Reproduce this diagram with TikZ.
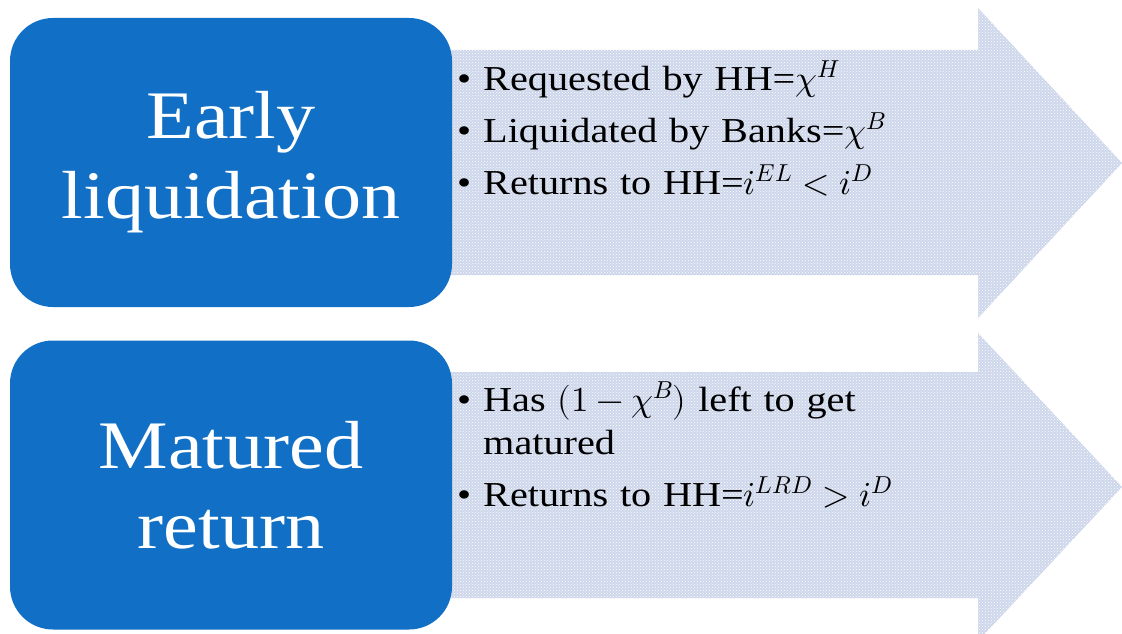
\documentclass[tikz,border=0pt]{standalone}
\usepackage{fontspec}
\usepackage{unicode-math}
\setmainfont{Liberation Serif}[FakeStretch=1.15]
\setmathfont{Latin Modern Math}
\usetikzlibrary{patterns}
\definecolor{boxblue}{RGB}{17,112,197}
\definecolor{arrowgray}{RGB}{205,214,235}
\newcommand\titlefont{\fontsize{68}{80}\selectfont}
\newcommand\listfont{\fontsize{35}{43}\selectfont}
\newcommand\bpt{\par\hangindent=26pt\hangafter=1\noindent\makebox[26pt][l]{\textbullet}}
\tikzstyle{bl} = [rectangle, fill=boxblue, text=white, rounded corners=43pt,
    minimum width=442pt, minimum height=289pt, inner sep=0pt, align=center, font=\titlefont]
\tikzstyle{ar} = [preaction={fill=arrowgray}, pattern=crosshatch dots, pattern color=white]
\tikzstyle{lst} = [anchor=north west, inner sep=0pt, text width=520pt, align=left, font=\listfont]

\begin{document}
\begin{tikzpicture}[x=1pt,y=-1pt]
  \clip (0,0) rectangle (1122,634);
  \fill[white] (0,0) rectangle (1122,634);

  % arrows behind the boxes
  \path[ar] (450,50) -- (978,50) -- (978,8) -- (1122,163) -- (978,318)
        -- (978,275) -- (450,275) -- cycle;
  \path[ar] (450,372) -- (978,372) -- (978,333) -- (1122,487) -- (978,641)
        -- (978,598) -- (450,598) -- cycle;

  \node[bl] (early)   at (231,162.5) {Early\\liquidation};
  \node[bl] (matured) at (231,485)   {Matured\\return};

  \node[lst] (earlylist) at (457,38) {\setlength{\parskip}{9pt}%
    \bpt Requested by HH=$\chi^H$
    \bpt Liquidated by Banks=$\chi^B$
    \bpt Returns to HH=$i^{EL}<i^D$\par};
  \node[lst] (maturedlist) at (457,359) {\setlength{\parskip}{9pt}%
    \bpt Has $(1-\chi^B)$ left to get\newline matured
    \bpt Returns to HH=$i^{LRD}>i^D$\par};
\end{tikzpicture}
\end{document}
